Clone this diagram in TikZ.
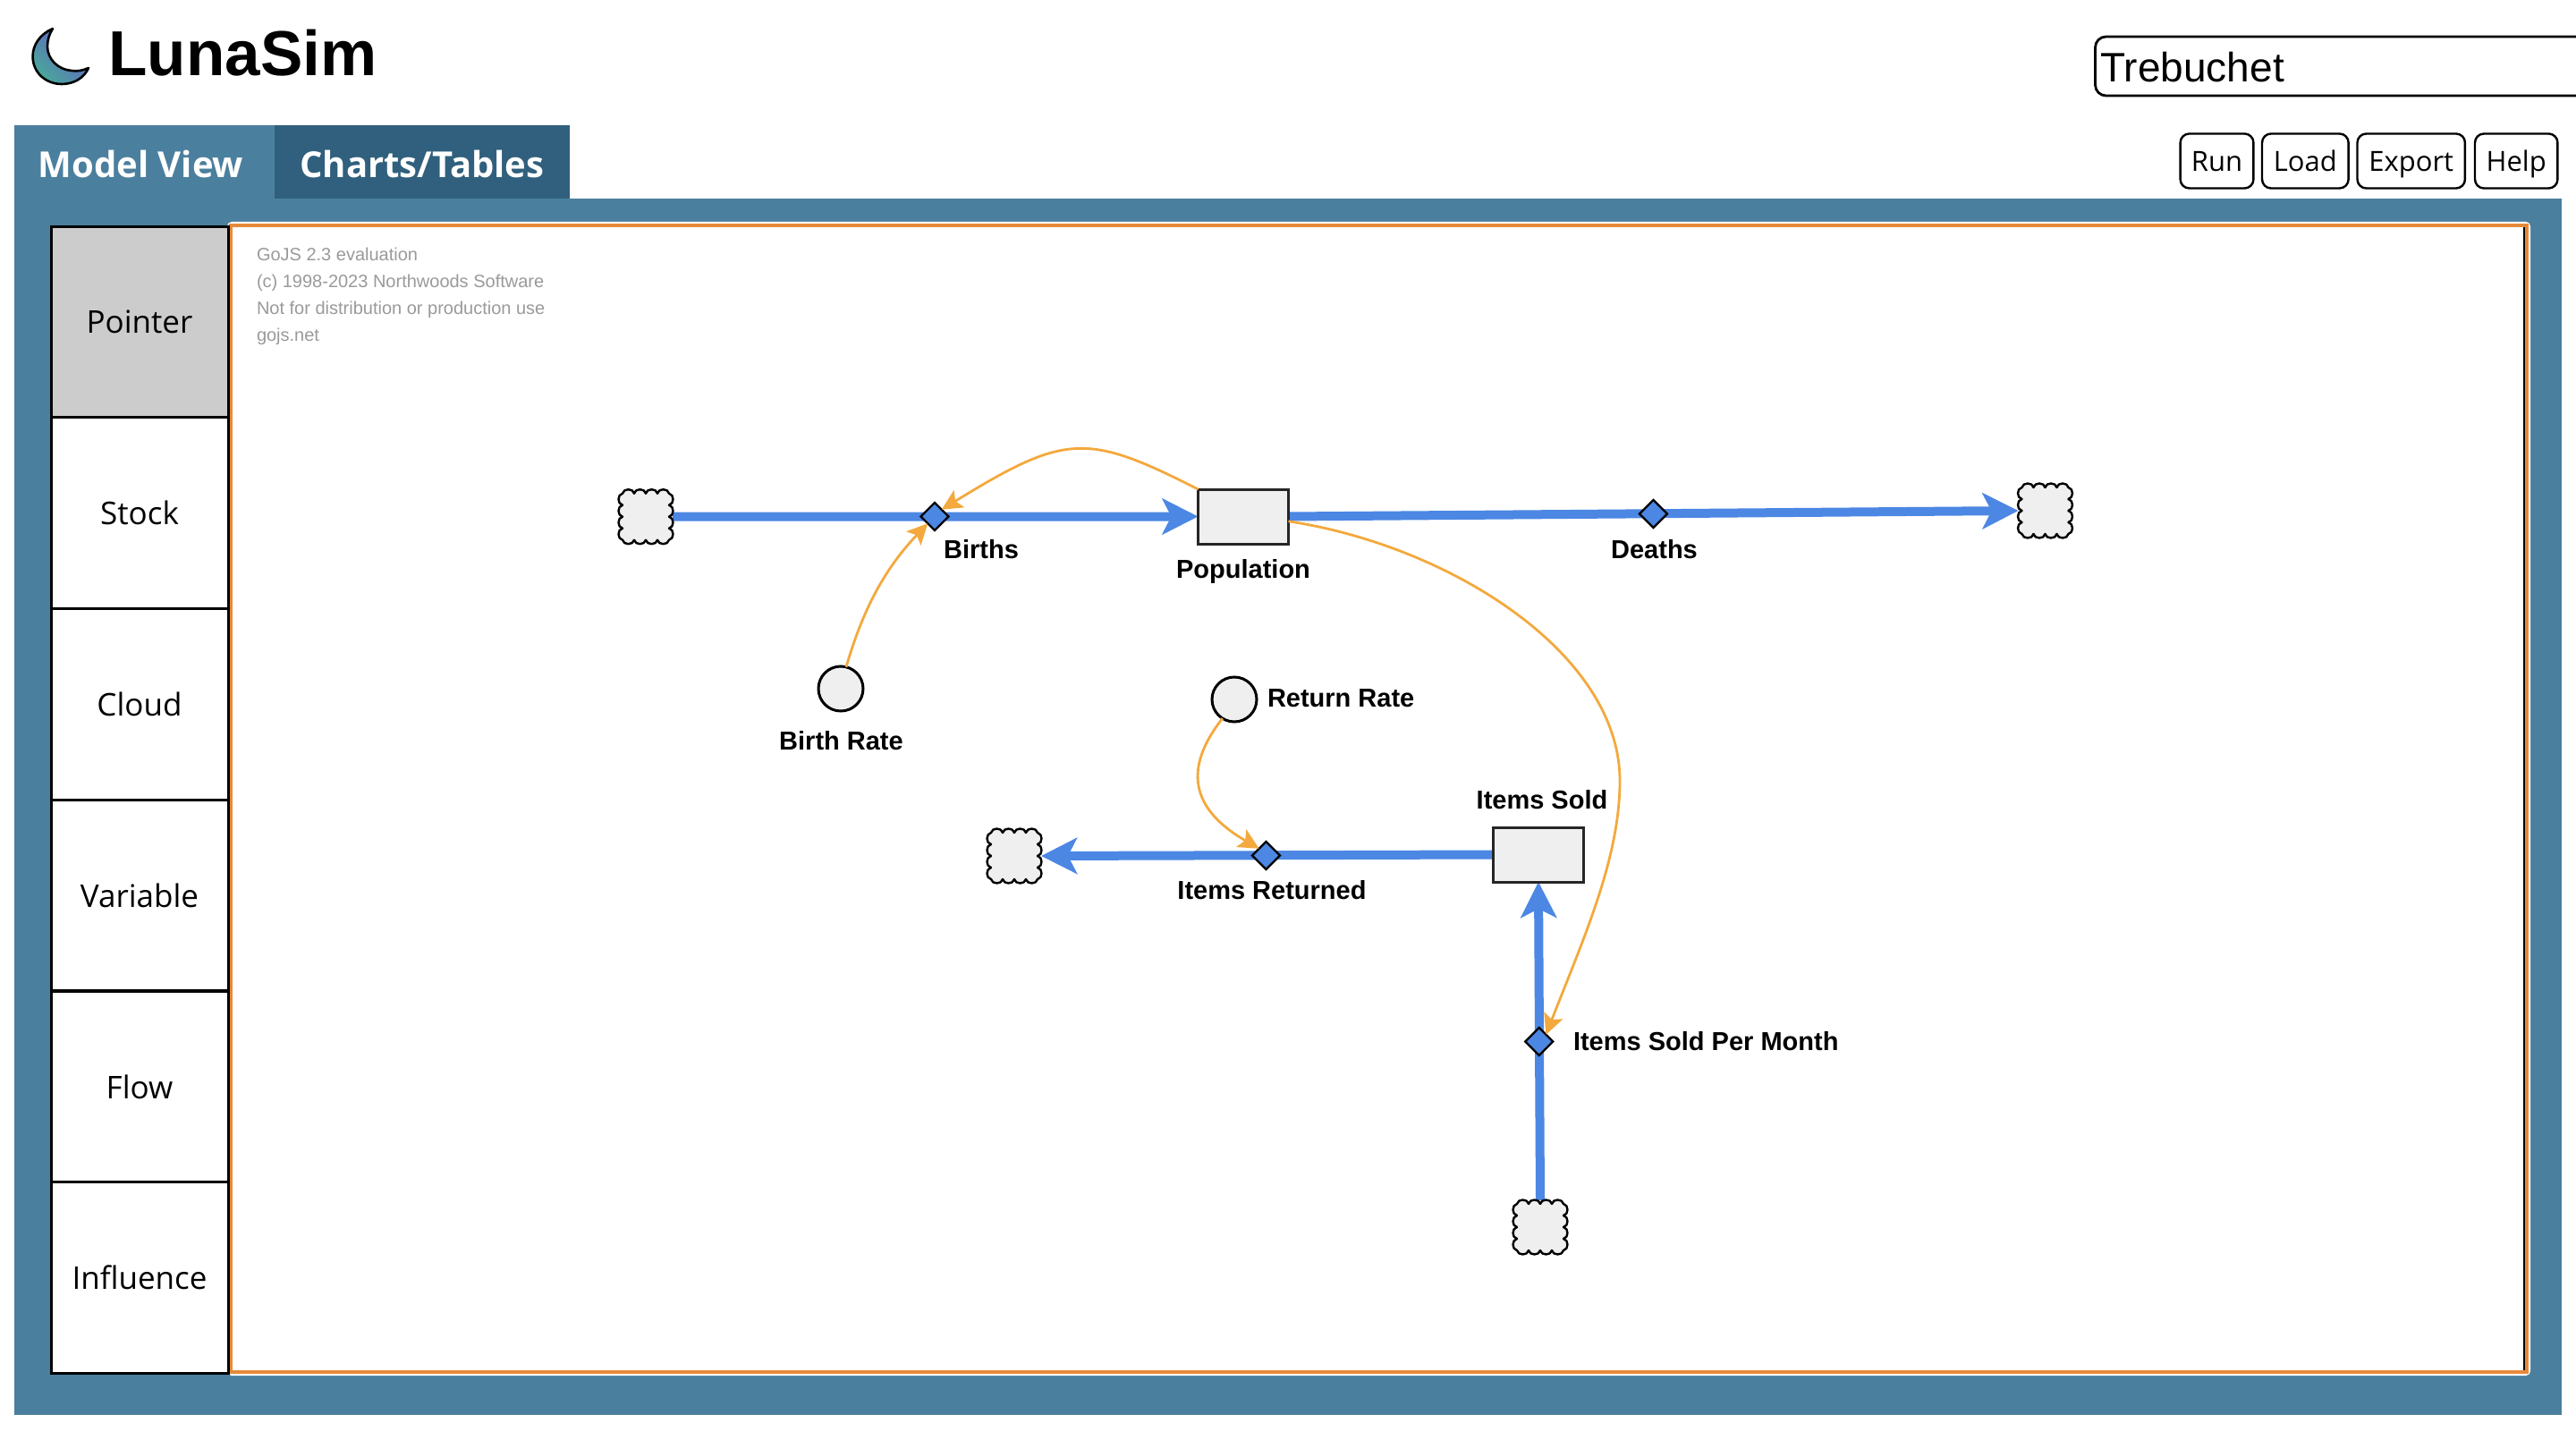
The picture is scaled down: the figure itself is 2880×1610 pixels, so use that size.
\documentclass[tikz,border=0pt]{standalone}
\usepackage{fontspec}
\setmainfont{Liberation Sans}
\newfontfamily\uifont{Open Sans}
\usetikzlibrary{arrows.meta,shapes.geometric}
\definecolor{panelblue}{HTML}{4B7F9E}
\definecolor{tabdark}{HTML}{30607D}
\definecolor{flowblue}{HTML}{4C87E3}
\definecolor{inflorange}{HTML}{F3A93D}
\definecolor{frameorange}{HTML}{E68A3A}
\definecolor{nodegrey}{HTML}{EFEFEF}
\definecolor{toolgrey}{HTML}{CCCCCC}
\definecolor{markgrey}{HTML}{9A9A9A}
\definecolor{moonA}{HTML}{6A58C8}
\definecolor{moonB}{HTML}{48A89A}
\pgfdeclarelayer{panels}
\pgfdeclarelayer{edges}
\pgfsetlayers{panels,edges,main}
\tikzset{
  flowline/.style={draw=flowblue,line width=5pt,-{Stealth[length=20pt,width=20pt,inset=5pt]}},
  inflline/.style={draw=inflorange,line width=1.4pt,-{Stealth[length=11.5pt,width=11.2pt,inset=2.5pt]}},
  boxnode/.style={draw=black!85,fill=nodegrey,line width=1.5pt,minimum width=50.5pt,minimum height=30.5pt,inner sep=0pt,outer sep=0pt},
  ratenode/.style={circle,draw=black,fill=nodegrey,line width=1.5pt,minimum size=25pt,inner sep=0pt,outer sep=0pt},
  valve/.style={diamond,draw=black,fill=flowblue,line width=1.2pt,minimum width=15.5pt,minimum height=15.5pt,inner sep=0pt,outer sep=0pt},
  cloudanchor/.style={minimum width=30pt,minimum height=30pt,inner sep=0pt,outer sep=0pt},
  cloudline/.style={draw=black,fill=nodegrey,line width=1.2pt,line join=round},
  lbl/.style={inner sep=0pt,outer sep=0pt,anchor=base,font=\fontsize{14.5}{16}\selectfont\bfseries},
  toolcell/.style={draw=black,fill=white,line width=1.5pt,minimum width=99pt,minimum height=106.7pt,inner sep=0pt,font=\uifont\fontsize{17.5}{20}\selectfont},
  toolbtn/.style={draw=black,fill=white,line width=1.2pt,rounded corners=5pt,minimum height=30.5pt,inner sep=0pt,text height=11.2pt,text depth=0pt,font=\uifont\fontsize{15.5}{18}\selectfont},
  tabtext/.style={inner sep=0pt,outer sep=0pt,anchor=base,text=white,font=\uifont\fontsize{20}{24}\selectfont\bfseries},
  marktext/.style={inner sep=0pt,outer sep=0pt,anchor=base west,text=markgrey,font=\fontsize{10}{12}\selectfont},
}
% scalloped cloud drawn round a named anchor node
\newcommand{\cloudat}[1]{%
  \begin{scope}[shift={(#1.center)}]
  \path[cloudline] (-26,-26)
    .. controls +(1,-6) and +(-1,-6) .. ++(13,0)
    .. controls +(1,-6) and +(-1,-6) .. ++(13,0)
    .. controls +(1,-6) and +(-1,-6) .. ++(13,0)
    .. controls +(1,-6) and +(-1,-6) .. ++(13,0)
    .. controls +(6,1) and +(6,-1) .. ++(0,13)
    .. controls +(6,1) and +(6,-1) .. ++(0,13)
    .. controls +(6,1) and +(6,-1) .. ++(0,13)
    .. controls +(6,1) and +(6,-1) .. ++(0,13)
    .. controls +(-1,6) and +(1,6) .. ++(-13,0)
    .. controls +(-1,6) and +(1,6) .. ++(-13,0)
    .. controls +(-1,6) and +(1,6) .. ++(-13,0)
    .. controls +(-1,6) and +(1,6) .. ++(-13,0)
    .. controls +(-6,-1) and +(-6,1) .. ++(0,-13)
    .. controls +(-6,-1) and +(-6,1) .. ++(0,-13)
    .. controls +(-6,-1) and +(-6,1) .. ++(0,-13)
    .. controls +(-6,-1) and +(-6,1) .. ++(0,-13) -- cycle;
  \end{scope}}
\begin{document}
\begin{tikzpicture}[x=0.5pt,y=-0.5pt]
\useasboundingbox (0,0) rectangle (2880,1610);

\begin{pgfonlayer}{panels}
\fill[white] (0,0) rectangle (2880,1610);
% panels and tabs
\fill[panelblue] (16,222) rectangle (2864,1582);
\fill[panelblue] (16,140) rectangle (307,222);
\fill[tabdark] (307,140) rectangle (637,222);
% canvas
\fill[white,rounded corners=2.5pt] (254,248) rectangle (2829,1538);
\draw[frameorange,line width=2pt] (258,252) rectangle (2825,1534);
\draw[black,line width=1pt] (2822,254) -- (2822,1532);
\end{pgfonlayer}

% logo
\path[draw=black,line width=1.3pt,line join=round,left color=moonB,right color=moonA,shading angle=135]
  (59,32) .. controls (45,38) and (36.6,50) .. (36.6,63)
  .. controls (36.6,82) and (52,94) .. (69,94)
  .. controls (83,94) and (94,87) .. (99,76)
  .. controls (92,79) and (86,80) .. (80,79)
  .. controls (65,78) and (53,66) .. (53,52)
  .. controls (53,45) and (55,38) .. (59,32) -- cycle;
\node[inner sep=0pt,anchor=base west,font=\fontsize{35.5}{40}\selectfont\bfseries] (title) at (121,85) {LunaSim};

% input
\draw[black,line width=1.4pt,rounded corners=6pt] (2880,41) -- (2342.5,41) -- (2342.5,107) -- (2880,107);
\node[inner sep=0pt,anchor=base west,font=\fontsize{23}{26}\selectfont] (modelname) at (2348,91.7) {Trebuchet};

% buttons
\node[toolbtn,minimum width=40.9pt] (run) at (2478.5,180) {Run};
\node[toolbtn,minimum width=48.3pt] (load) at (2577.3,180) {Load};
\node[toolbtn,minimum width=60.2pt] (export) at (2695.7,180) {Export};
\node[toolbtn,minimum width=46.2pt] (help) at (2813.2,180) {Help};

% tabs
\node[tabtext] (tabmodel) at (157.5,199) {Model View};
\node[tabtext] (tabcharts) at (472,199) {Charts/Tables};

% tools
\node[toolcell,fill=toolgrey] (pointer) at (156,360.2) {Pointer};
\node[toolcell] (stock) at (156,573.6) {Stock};
\node[toolcell] (cloud) at (156,787.5) {Cloud};
\node[toolcell] (variable) at (156,1001) {Variable};
\node[toolcell] (flow) at (156,1215) {Flow};
\node[toolcell] (influence) at (156,1428.5) {Influence};

% watermark
\node[marktext] (m1) at (287,291.5) {GoJS 2.3 evaluation};
\node[marktext] (m2) at (287,321.5) {(c) 1998-2023 Northwoods Software};
\node[marktext] (m3) at (287,351.5) {Not for distribution or production use};
\node[marktext] (m4) at (287,381.5) {gojs.net};

% model nodes
\node[cloudanchor] (c1) at (722,577.7) {}; \cloudat{c1}
\node[cloudanchor] (c2) at (2286.5,571) {}; \cloudat{c2}
\node[cloudanchor] (c3) at (1134,957) {}; \cloudat{c3}
\node[cloudanchor] (c4) at (1722,1372) {}; \cloudat{c4}
\node[boxnode] (pop) at (1390,577.5) {};
\node[boxnode] (sold) at (1720,955.5) {};
\node[ratenode] (brate) at (940,770) {};
\node[ratenode] (rrate) at (1380,782) {};
\node[valve] (births) at (1045,577.5) {};
\node[valve] (deaths) at (1848.5,574.5) {};
\node[valve] (returned) at (1415.5,956.5) {};
\node[valve] (spm) at (1720.7,1164.5) {};

% labels
\node[lbl] (lbirths) at (1097,624) {Births};
\node[lbl] (lpop) at (1390,646) {Population};
\node[lbl] (ldeaths) at (1849.5,624) {Deaths};
\node[lbl] (lbrate) at (940.5,838.5) {Birth Rate};
\node[lbl,anchor=base west] (lrrate) at (1417,790) {Return Rate};
\node[lbl] (lsold) at (1724,904) {Items Sold};
\node[lbl] (lret) at (1422,1005.5) {Items Returned};
\node[lbl,anchor=base west] (lspm) at (1759,1174) {Items Sold Per Month};

\coordinate (bulge) at (1811,873);

\begin{pgfonlayer}{edges}
\draw[flowline] (c1.east) -- (pop.west);
\draw[flowline] (pop.east) -- (c2.west);
\draw[flowline] (sold.west) -- (c3.east);
\draw[flowline] (c4.north) -- (sold.south);
\end{pgfonlayer}

\draw[inflline] (pop.north west) .. controls (1215,484) and (1192,484) .. (births.north east);
\draw[inflline] (brate.76) .. controls (965,680) and (990,635) .. (births.south west);
\draw[inflline] (rrate.238) .. controls (1322,860) and (1332,905) .. (returned.north west);
\draw[inflline] (pop.-6) .. controls (1620,610) and (1811,730) .. (bulge)
  .. controls (1811,960) and (1770,1050) .. (spm.north east);
\end{tikzpicture}
\end{document}
